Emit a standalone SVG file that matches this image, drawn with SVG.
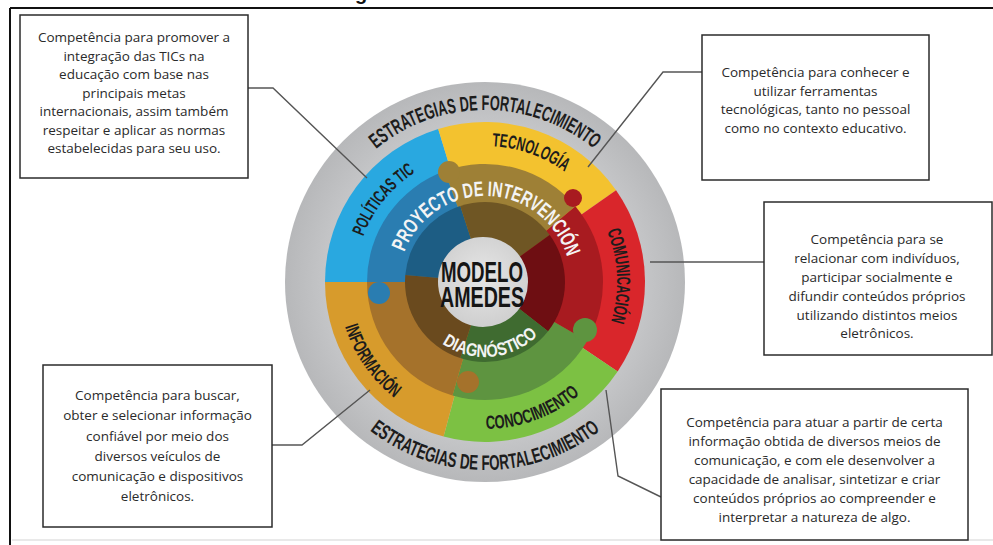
<svg xmlns="http://www.w3.org/2000/svg" width="993" height="545" viewBox="0 0 993 545">
<defs>
<style>
.box rect{fill:#fff;stroke:#2b2b2b;stroke-width:1.5}
.box text{font-family:"Open Sans","Liberation Sans",sans-serif;font-size:13.5px;fill:#2a2a2a;text-anchor:middle}
.conn path{fill:none;stroke:#555;stroke-width:1.4}
.arc{font-family:"Liberation Sans",Arial,sans-serif;font-weight:bold;text-anchor:middle}
.dk{fill:#1c1c1c}
.wh{fill:#f4f4f4}
</style>
<radialGradient id="gc" cx="50%" cy="45%" r="55%">
<stop offset="0" stop-color="#e6e6e6"/>
<stop offset="1" stop-color="#cfcfcf"/>
</radialGradient>
<radialGradient id="gg" cx="50%" cy="50%" r="50%">
<stop offset="0.8" stop-color="#c4c5c7"/>
<stop offset="1" stop-color="#b7b8ba"/>
</radialGradient>
<path id="pTop" d="M -131.76,-110.56 A 172 172 0 0 1 131.76,-110.56"/>
<path id="pBot" d="M -144.02,120.85 A 188 188 0 0 0 144.02,120.85"/>
<path id="pPol" d="M -129.68,-9.07 A 130 130 0 0 1 -35.83,-124.96"/>
<path id="pTec" d="M -36.57,-130.99 A 136 136 0 0 1 110.59,-79.15"/>
<path id="pCom" d="M 104.58,-80.54 A 132 132 0 0 1 111.45,70.73"/>
<path id="pCon" d="M -37.3,142.19 A 147 147 0 0 0 120.85,83.68"/>
<path id="pInf" d="M -147.0,-0.51 A 147 147 0 0 0 -50.76,137.96"/>
<path id="pPro" d="M -84.22,-17.44 A 86 86 0 0 1 85.1,-12.41"/>
<path id="pDia" d="M -57.46,48.21 A 75 75 0 0 0 64.95,37.5"/>
</defs>

<rect x="0" y="0" width="993" height="545" fill="#fff"/>
<g id="frame">
<text x="355" y="0" font-family="Liberation Sans,Arial,sans-serif" font-weight="bold" font-size="20" fill="#111">g</text>
<path d="M10,8 H993 M10,8 V545" stroke="#111" stroke-width="2" fill="none"/>
<path d="M12,540 H993" stroke="#e2e2e2" stroke-width="1.5" fill="none"/>
</g>

<g id="modelo" transform="translate(485,282)">
<circle r="200" fill="url(#gg)"/>
<!-- outer band -->
<path d="M0,0 L-160,0 A160 160 0 0 1 -46.78,-153.01 Z" fill="#29a8e0"/>
<path d="M0,0 L-46.78,-153.01 A160 160 0 0 1 131.07,-91.77 Z" fill="#f3c22f"/>
<path d="M0,0 L131.07,-91.77 A160 160 0 0 1 132.64,89.47 Z" fill="#d9262b"/>
<path d="M0,0 L132.64,89.47 A160 160 0 0 1 -41.41,154.55 Z" fill="#7cc143"/>
<path d="M0,0 L-41.41,154.55 A160 160 0 0 1 -160,0 Z" fill="#d79b2c"/>
<!-- middle ring -->
<path d="M0,0 L-118,0 A118 118 0 0 1 -40.36,-110.88 Z" fill="#2a7db1"/>
<path d="M0,0 L-40.36,-110.88 A118 118 0 0 1 90.39,-75.85 Z" fill="#9e8036"/>
<path d="M0,0 L90.39,-75.85 A118 118 0 0 1 102.19,59 Z" fill="#a81b20"/>
<path d="M0,0 L102.19,59 A118 118 0 0 1 -32.52,113.43 Z" fill="#5e9440"/>
<path d="M0,0 L-32.52,113.43 A118 118 0 0 1 -118,0 Z" fill="#a5722b"/>
<!-- puzzle knobs -->
<circle cx="-36" cy="-110" r="11" fill="#9e8036"/>
<circle cx="88" cy="-84" r="9" fill="#a81b20"/>
<circle cx="100" cy="48" r="12" fill="#5e9440"/>
<circle cx="-17" cy="100" r="11" fill="#a5722b"/>
<circle cx="-106" cy="11" r="11" fill="#2a7db1"/>
<!-- inner ring -->
<path d="M0,0 L-79.7,-6.97 A80 80 0 0 1 -24.72,-76.09 Z" fill="#1d5d84"/>
<path d="M0,0 L-24.72,-76.09 A80 80 0 0 1 64.72,-47.02 Z" fill="#6f5624"/>
<path d="M0,0 L64.72,-47.02 A80 80 0 0 1 63.04,49.26 Z" fill="#6e0e12"/>
<path d="M0,0 L63.04,49.26 A80 80 0 0 1 -24.72,76.09 Z" fill="#3f6b30"/>
<path d="M0,0 L-24.72,76.09 A80 80 0 0 1 -79.7,-6.97 Z" fill="#6a4a1e"/>
<circle cx="-2" cy="0" r="45" fill="url(#gc)"/>
<text x="-3" y="0" font-family="Liberation Sans,Arial,sans-serif" font-weight="bold" font-size="30" fill="#151515" text-anchor="middle" textLength="82" lengthAdjust="spacingAndGlyphs">MODELO</text>
<text x="-3" y="25" font-family="Liberation Sans,Arial,sans-serif" font-weight="bold" font-size="30" fill="#151515" text-anchor="middle" textLength="84" lengthAdjust="spacingAndGlyphs">AMEDES</text>
<!-- arc labels -->
<text class="arc dk" font-size="21"><textPath href="#pTop" startOffset="50%" textLength="236" lengthAdjust="spacingAndGlyphs">ESTRATEGIAS DE FORTALECIMIENTO</textPath></text>
<text class="arc dk" font-size="21"><textPath href="#pBot" startOffset="50%" textLength="248" lengthAdjust="spacingAndGlyphs">ESTRATEGIAS DE FORTALECIMIENTO</textPath></text>
<text class="arc dk" font-size="18"><textPath href="#pPol" startOffset="50%" textLength="84" lengthAdjust="spacingAndGlyphs">POLÍTICAS TIC</textPath></text>
<text class="arc dk" font-size="19"><textPath href="#pTec" startOffset="50%" textLength="78" lengthAdjust="spacingAndGlyphs">TECNOLOGÍA</textPath></text>
<text class="arc dk" font-size="19"><textPath href="#pCom" startOffset="50%" textLength="92" lengthAdjust="spacingAndGlyphs">COMUNICACIÓN</textPath></text>
<text class="arc dk" font-size="19"><textPath href="#pCon" startOffset="50%" textLength="102" lengthAdjust="spacingAndGlyphs">CONOCIMIENTO</textPath></text>
<text class="arc dk" font-size="19"><textPath href="#pInf" startOffset="50%" textLength="88" lengthAdjust="spacingAndGlyphs">INFORMACIÓN</textPath></text>
<text class="arc wh" font-size="21"><textPath href="#pPro" startOffset="50%" textLength="214" lengthAdjust="spacingAndGlyphs">PROYECTO DE INTERVENCIÓN</textPath></text>
<text class="arc wh" font-size="18"><textPath href="#pDia" startOffset="50%" textLength="104" lengthAdjust="spacingAndGlyphs">DIAGNÓSTICO</textPath></text>
</g>

<g class="conn" id="connectors">
<path d="M248,88 L273,88 L367,178"/>
<path d="M702,72 L663,72 L588,167"/>
<path d="M650,262 L764,262"/>
<path d="M272,445 L302,445 L370,390"/>
<path d="M661,497 L618,476 L606,390"/>
</g>

<g class="box" id="box-politicas">
<rect x="20" y="15" width="228" height="163"/>
<text x="134" y="42">Competência para promover a</text>
<text x="134" y="60.5">integração das TICs na</text>
<text x="134" y="79">educação com base nas</text>
<text x="134" y="97.5">principais metas</text>
<text x="134" y="116">internacionais, assim também</text>
<text x="134" y="134.5">respeitar e aplicar as normas</text>
<text x="134" y="153">estabelecidas para seu uso.</text>
</g>

<g class="box" id="box-tecnologia">
<rect x="702" y="35" width="227" height="145"/>
<text x="815.5" y="77">Competência para conhecer e</text>
<text x="815.5" y="95.5">utilizar ferramentas</text>
<text x="815.5" y="114">tecnológicas, tanto no pessoal</text>
<text x="815.5" y="132.5">como no contexto educativo.</text>
</g>

<g class="box" id="box-comunicacion">
<rect x="764" y="202" width="228" height="153"/>
<text x="877" y="244">Competência para se</text>
<text x="877" y="263">relacionar com indivíduos,</text>
<text x="877" y="282">participar socialmente e</text>
<text x="877" y="301">difundir conteúdos próprios</text>
<text x="877" y="319.5">utilizando distintos meios</text>
<text x="877" y="338">eletrônicos.</text>
</g>

<g class="box" id="box-informacion">
<rect x="43" y="365" width="229" height="162"/>
<text x="157.5" y="400">Competência para buscar,</text>
<text x="157.5" y="420">obter e selecionar informação</text>
<text x="157.5" y="440.5">confiável por meio dos</text>
<text x="157.5" y="460.5">diversos veículos  de</text>
<text x="157.5" y="481">comunicação e dispositivos</text>
<text x="157.5" y="501">eletrônicos.</text>
</g>

<g class="box" id="box-conocimiento">
<rect x="661" y="389" width="307" height="151"/>
<text x="814.5" y="427">Competência para atuar a partir de certa</text>
<text x="814.5" y="446">informação obtida de diversos meios de</text>
<text x="814.5" y="465">comunicação, e com ele desenvolver a</text>
<text x="814.5" y="484">capacidade de analisar, sintetizar e criar</text>
<text x="814.5" y="503">conteúdos próprios ao compreender e</text>
<text x="814.5" y="522">interpretar a natureza de algo.</text>
</g>
</svg>
